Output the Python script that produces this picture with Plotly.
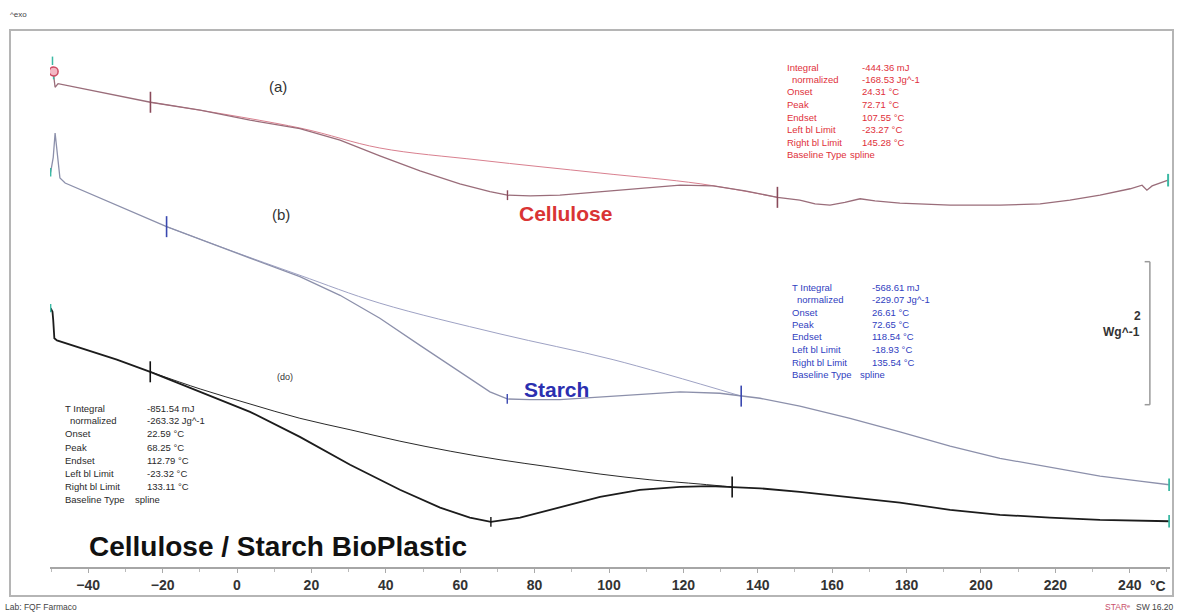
import numpy as np
import plotly.graph_objects as go

# ---- DSC runs: temperature (°C) vs heat flow (W/g, exo up, curves stacked) ----
cel_T = [-49.3, -48.9, -48.1, -36.8, -23.27, -9.9, 3.5, 16.9, 27.7, 38.4, 49.2, 59.9, 68.0, 72.71,
         78.8, 86.8, 97.6, 108.3, 119.1, 128.0, 136.6, 145.28, 151.3, 155.4, 159.4, 163.4, 167.5,
         171.5, 178.2, 191.7, 205.1, 215.9, 223.9, 232.0, 240.1, 243.3, 244.6, 246.0, 250.3]
cel_W = [6.88, 6.71, 6.76, 6.64, 6.50, 6.39, 6.25, 6.13, 5.97, 5.75, 5.54, 5.36, 5.25, 5.20,
         5.19, 5.20, 5.25, 5.30, 5.34, 5.33, 5.26, 5.17, 5.13, 5.08, 5.06, 5.10, 5.15,
         5.12, 5.09, 5.06, 5.06, 5.08, 5.13, 5.20, 5.29, 5.34, 5.27, 5.33, 5.41]
cel_base_T = [-23.27, 16.9, 38.4, 65.3, 97.6, 124.5, 145.28]
cel_base_W = [6.50, 6.14, 5.86, 5.69, 5.51, 5.36, 5.17]

sta_T = [-50.1, -49.9, -49.4, -48.9, -48.4, -47.6, -46.2, -18.93, 3.5, 16.9, 27.7, 38.4, 49.2,
         59.9, 68.0, 72.65, 78.8, 86.8, 97.6, 108.3, 119.1, 129.8, 135.54, 140.6, 151.3, 164.8,
         178.2, 191.7, 205.1, 218.5, 232.0, 242.7, 250.6]
sta_W = [5.52, 5.58, 5.73, 6.07, 5.79, 5.44, 5.37, 4.76, 4.32, 4.06, 3.80, 3.48, 3.10,
         2.73, 2.45, 2.35, 2.34, 2.34, 2.38, 2.42, 2.45, 2.43, 2.39, 2.36, 2.25, 2.08,
         1.89, 1.69, 1.52, 1.40, 1.27, 1.20, 1.15]
sta_base_T = [-18.93, -1.9, 16.9, 38.4, 70.7, 101.1, 135.54]
sta_base_W = [4.76, 4.43, 4.08, 3.69, 3.26, 2.90, 2.39]

bio_T = [-50.1, -49.6, -49.4, -49.1, -48.4, -32.3, -23.32, -9.9, 3.5, 16.9, 30.4, 43.8, 54.6,
         62.6, 68.25, 76.1, 86.8, 97.6, 108.3, 119.1, 127.2, 133.11, 140.6, 151.3, 164.8, 178.2,
         191.7, 205.1, 218.5, 232.0, 250.6]
bio_W = [3.62, 3.57, 3.45, 3.20, 3.17, 2.90, 2.73, 2.45, 2.17, 1.82, 1.43, 1.08, 0.83,
         0.69, 0.63, 0.69, 0.83, 0.98, 1.08, 1.12, 1.13, 1.12, 1.10, 1.05, 0.98, 0.90,
         0.80, 0.73, 0.69, 0.66, 0.64]
bio_base_T = [-23.32, -9.9, 3.5, 16.9, 30.4, 43.8, 57.3, 70.7, 84.1, 97.6, 111.0, 124.5, 133.11]
bio_base_W = [2.73, 2.49, 2.28, 2.08, 1.92, 1.76, 1.62, 1.50, 1.40, 1.30, 1.22, 1.16, 1.12]

# ---- peak evaluation results ----
result_labels = ["Integral", " normalized", "Onset", "Peak", "Endset",
                 "Left bl Limit", "Right bl Limit", "Baseline Type"]
cel_results = ["-444.36 mJ", "-168.53 Jg^-1", "24.31 °C", "72.71 °C", "107.55 °C",
               "-23.27 °C", "145.28 °C", "spline"]
sta_results = ["-568.61 mJ", "-229.07 Jg^-1", "26.61 °C", "72.65 °C", "118.54 °C",
               "-18.93 °C", "135.54 °C", "spline"]
bio_results = ["-851.54 mJ", "-263.32 Jg^-1", "22.59 °C", "68.25 °C", "112.79 °C",
               "-23.32 °C", "133.11 °C", "spline"]
cel_limits, cel_peak = [-23.27, 145.28], 72.71
sta_limits, sta_peak = [-18.93, 135.54], 72.65
bio_limits, bio_peak = [-23.32, 133.11], 68.25

tick_vals = list(range(-40, 241, 20))
scale_bar_W = 2.0

# ---- canvas geometry ----
W_PX, H_PX = 1179, 615
ML, MR, MT, MB = 50, 9, 40, 48
X_RANGE = [-50.27, 250.81]
Y_RANGE = [0.0, 7.3706]
FONT = "Arial, Liberation Sans, sans-serif"


def page(xp, yp):
    """Canvas pixel position -> paper coordinates."""
    return (xp - ML) / (W_PX - ML - MR), (H_PX - MB - yp) / (H_PX - MT - MB)


fig = go.Figure()


def add_run(T, W, bT, bW, color, base_color, width, mark_color, limits, peak):
    fig.add_trace(go.Scatter(x=bT, y=bW, mode="lines", line=dict(color=base_color, width=1),
                             line_shape="spline", hoverinfo="skip"))
    fig.add_trace(go.Scatter(x=T, y=W, mode="lines", line=dict(color=color, width=width)))
    fig.add_trace(go.Scatter(x=limits, y=np.interp(limits, T, W), mode="markers",
                             marker=dict(symbol="line-ns", size=15,
                                         line=dict(color=mark_color, width=1.6))))
    fig.add_trace(go.Scatter(x=[peak], y=[np.interp(peak, T, W)], mode="markers",
                             marker=dict(symbol="line-ns", size=7,
                                         line=dict(color=mark_color, width=1.4))))
    fig.add_trace(go.Scatter(x=[T[-1]], y=[W[-1]], mode="markers",
                             marker=dict(symbol="line-ns", size=9,
                                         line=dict(color="#3bb9a4", width=2))))
    fig.add_trace(go.Scatter(x=[T[0]], y=[W[0]], mode="markers",
                             marker=dict(symbol="line-ns", size=6,
                                         line=dict(color="#3bb9a4", width=1.5))))


add_run(cel_T, cel_W, cel_base_T, cel_base_W, "#9a6d7a", "#d9808f", 1.3, "#8a4a5a", cel_limits, cel_peak)
add_run(sta_T, sta_W, sta_base_T, sta_base_W, "#8c90ab", "#9ea2c4", 1.3, "#3a48b0", sta_limits, sta_peak)
add_run(bio_T, bio_W, bio_base_T, bio_base_W, "#1c1c1c", "#2a2a2a", 1.8, "#111111", bio_limits, bio_peak)

# start marker of the cellulose run
fig.add_trace(go.Scatter(x=[cel_T[0]], y=[cel_W[0] + 0.05], mode="markers",
                         marker=dict(symbol="circle", size=9, color="#f3b8c4",
                                     line=dict(color="#cc4a62", width=1.5))))
fig.add_trace(go.Scatter(x=[cel_T[0] - 0.3], y=[cel_W[0] + 0.2], mode="markers",
                         marker=dict(symbol="line-ns", size=6,
                                     line=dict(color="#3bb9a4", width=1.5))))

annotations = []


def text_at(xp, yp, txt, size=10, color="#333", bold=False, xanchor="left", family=FONT):
    xx, yy = page(xp, yp)
    annotations.append(dict(x=xx, y=yy, xref="paper", yref="paper", text=txt, showarrow=False,
                            xanchor=xanchor, yanchor="middle",
                            font=dict(size=size, color=color, family=family,
                                      weight=700 if bold else 400)))


def result_table(x_lab, x_val, y0, dy, values, color, first_label):
    labels = [first_label] + result_labels[1:]
    for i, (lab, val) in enumerate(zip(labels, values)):
        yp = y0 + i * dy
        xl = x_lab + (5 if i == 1 else 0)
        text_at(xl, yp, lab.strip(), 9.5, color)
        text_at(x_val - (12 if i == len(values) - 1 else 0), yp, val, 9.5, color)


result_table(785, 860, 67, 12.5, cel_results, "#e0303a", "Integral")
result_table(790, 870, 287, 12.5, sta_results, "#3040c0", "T Integral")
result_table(63, 145, 408, 13, bio_results, "#2a2a2a", "T Integral")

# curve labels
text_at(278, 86, "(a)", 15, "#333", xanchor="center")
text_at(281, 215, "(b)", 15, "#333", xanchor="center")
text_at(285, 377, "(do)", 9, "#333", xanchor="center")
text_at(565, 213, "Cellulose", 21, "#d93434", bold=True, xanchor="center")
text_at(556, 390, "Starch", 21, "#2b2fb0", bold=True, xanchor="center")
text_at(278, 546, "Cellulose / Starch BioPlastic", 28, "#111", bold=True, xanchor="center")

# scale bar labels, unit, page footer
text_at(1143, 316, "2", 12, "#333", bold=True, xanchor="right")
text_at(1142, 332, "Wg^-1", 12, "#333", bold=True, xanchor="right")
text_at(1158, 586, "°C", 14, "#333", bold=True, xanchor="center")
text_at(8, 14, "^exo", 8, "#444")
text_at(3, 607, "Lab: FQF Farmaco", 8.5, "#444")
text_at(1176, 607, "SW 16.20", 8.5, "#444", xanchor="right")
text_at(1132, 607, "STARᵉ", 8.5, "#c8506a", xanchor="right")

# outer frame and scale bar
fx0, fy0 = page(10, 596)
fx1, fy1 = page(1173, 30)
bar_x = 245.4
bar_y0 = 2.27
shapes = [
    dict(type="rect", xref="paper", yref="paper", x0=fx0, y0=fy0, x1=fx1, y1=fy1,
         line=dict(color="#b5b5b5", width=2)),
    dict(type="line", xref="x", yref="y", x0=bar_x, x1=bar_x, y0=bar_y0, y1=bar_y0 + scale_bar_W,
         line=dict(color="#9a9a9a", width=1.5)),
    dict(type="line", xref="x", yref="y", x0=bar_x - 1.4, x1=bar_x, y0=bar_y0, y1=bar_y0,
         line=dict(color="#9a9a9a", width=1.5)),
    dict(type="line", xref="x", yref="y", x0=bar_x - 1.4, x1=bar_x, y0=bar_y0 + scale_bar_W,
         y1=bar_y0 + scale_bar_W, line=dict(color="#9a9a9a", width=1.5)),
]

fig.update_layout(
    width=W_PX, height=H_PX,
    margin=dict(l=ML, r=MR, t=MT, b=MB),
    paper_bgcolor="white", plot_bgcolor="white",
    showlegend=False,
    annotations=annotations,
    shapes=shapes,
    xaxis=dict(range=X_RANGE, showgrid=False, zeroline=False, showline=True,
               linecolor="#a6a6a6", linewidth=1.5, ticks="outside", ticklen=4,
               tickcolor="#aaaaaa", tickvals=tick_vals,
               tickfont=dict(family=FONT, size=14, color="#333", weight=700),
               minor=dict(dtick=10, ticks="outside", ticklen=3, tickcolor="#bbbbbb")),
    yaxis=dict(range=Y_RANGE, visible=False, showgrid=False, zeroline=False),
)

fig.write_html("out.html")
